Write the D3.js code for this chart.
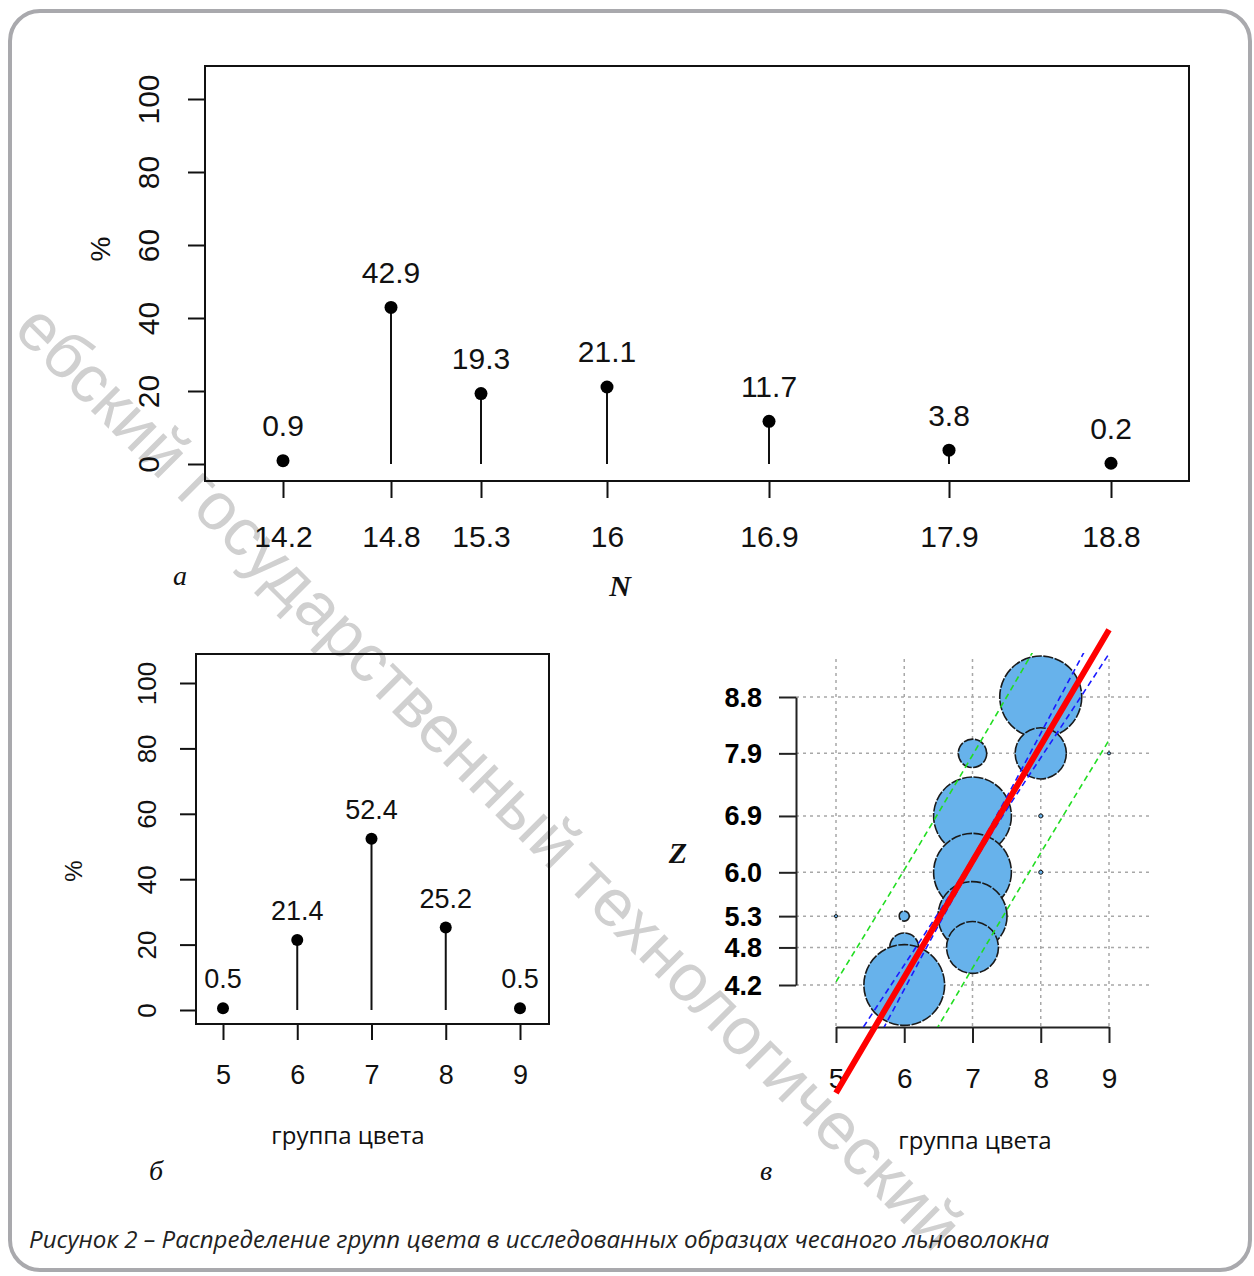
<!DOCTYPE html>
<html>
<head>
<meta charset="utf-8">
<script src="https://cdn.jsdelivr.net/npm/d3@7"></script>
<style>
  body { margin: 0; background: #fff; }
  svg { display: block; }
</style>
</head>
<body>
<div id="chart"></div>
<script>
// Panel a: share of samples by linear density N
const nValues = [14.2, 14.8, 15.3, 16, 16.9, 17.9, 18.8]
const nShares = [0.9, 42.9, 19.3, 21.1, 11.7, 3.8, 0.2]

// Panel б: share of samples by colour group
const colorGroups = [5, 6, 7, 8, 9]
const groupShares = [0.5, 21.4, 52.4, 25.2, 0.5]
const percentTicks = [0, 20, 40, 60, 80, 100]

// Panel в: bubbles (colour group vs Z), sorted so smaller Z is drawn on top
const zTicks = [4.2, 4.8, 5.3, 6.0, 6.9, 7.9, 8.8]
const bubbleGroup = [8, 7, 8, 9, 7, 8, 7, 8, 7, 6, 5, 7, 6, 6]
const bubbleZ = [8.8, 7.9, 7.9, 7.9, 6.9, 6.9, 6.0, 6.0, 5.3, 5.3, 5.3, 4.8, 4.8, 4.2]
const bubbleCount = [100, 12, 39, 0.15, 90, 0.25, 90, 0.25, 71, 1.5, 0.15, 40, 12.5, 97]

// Regression line with confidence (blue) and prediction (green) bands, read at each group
const fitGroup = [5, 6, 7, 8, 9]
const fitZ = [2.475, 4.325, 6.175, 8.025, 9.875]
const confLow = [2.09, 4.13, 6.12, 7.83, 9.49]
const confHigh = [2.86, 4.52, 6.23, 8.22, 10.26]
const predLow = [0.71, 2.61, 4.47, 6.31, 8.11]
const predHigh = [4.25, 6.04, 7.87, 9.74, 11.64]

const W = 1254
const H = 1276
const sans = 'Liberation Sans, Arial, sans-serif'
const serif = 'Liberation Serif, Times New Roman, serif'
const uiFont = 'Open Sans, Noto Sans, sans-serif'

const svg = d3.select('#chart').append('svg')
  .attr('width', W).attr('height', H)

// page frame
svg.append('rect')
  .attr('x', 10).attr('y', 11).attr('width', 1240).attr('height', 1259)
  .attr('rx', 30)
  .attr('fill', '#fff').attr('stroke', '#a9a9ad').attr('stroke-width', 4)

// watermark under the charts (its start is cut by the page edge in the source)
svg.append('text')
  .attr('transform', 'translate(934,1254) rotate(45)')
  .attr('text-anchor', 'end')
  .attr('font-family', sans).attr('font-size', 67)
  .attr('fill', '#d0d0d0')
  .text('ебский государственный технологический')

// Draws a boxed lollipop chart of percentages
function lollipop (opt) {
  const g = svg.append('g')
  const x = d3.scaleLinear().domain(opt.xDomain).range(opt.xRange)
  const y = d3.scaleLinear().domain([0, 100]).range(opt.yRange)

  g.append('rect')
    .attr('x', opt.box[0]).attr('y', opt.box[1])
    .attr('width', opt.box[2] - opt.box[0]).attr('height', opt.box[3] - opt.box[1])
    .attr('fill', 'none').attr('stroke', '#111').attr('stroke-width', 2)

  const yAxis = g.append('g')
    .attr('transform', `translate(${opt.box[0]},0)`)
    .call(d3.axisLeft(y).tickValues(percentTicks).tickSize(opt.tick).tickSizeOuter(0))
  yAxis.select('.domain').remove()
  yAxis.selectAll('line').attr('stroke', '#111').attr('stroke-width', 2)
  yAxis.selectAll('text')
    .attr('x', 0).attr('y', -opt.yLabelGap).attr('dy', null)
    .attr('transform', 'rotate(-90)')
    .attr('text-anchor', 'middle').attr('dominant-baseline', 'central')
    .attr('font-family', sans).attr('font-size', opt.yFont).attr('fill', '#111')

  const xAxis = g.append('g')
    .attr('transform', `translate(0,${opt.box[3]})`)
    .call(d3.axisBottom(x).tickValues(opt.cats).tickFormat(d3.format('')).tickSize(opt.tick).tickSizeOuter(0))
  xAxis.select('.domain').remove()
  xAxis.selectAll('line').attr('stroke', '#111').attr('stroke-width', 2)
  xAxis.selectAll('text')
    .attr('y', opt.xLabelGap).attr('dy', null)
    .attr('dominant-baseline', 'central')
    .attr('font-family', sans).attr('font-size', opt.xFont).attr('fill', '#111')

  g.selectAll('.stem').data(opt.cats).join('line')
    .attr('x1', d => x(d)).attr('x2', d => x(d))
    .attr('y1', y(0)).attr('y2', (d, i) => y(opt.values[i]))
    .attr('stroke', '#111').attr('stroke-width', 2)

  g.selectAll('.dot').data(opt.cats).join('circle')
    .attr('cx', d => x(d)).attr('cy', (d, i) => y(opt.values[i]))
    .attr('r', opt.dotR).attr('fill', '#000')

  g.selectAll('.val').data(opt.cats).join('text')
    .attr('x', d => x(d)).attr('y', (d, i) => y(opt.values[i]) - opt.valueGap)
    .attr('text-anchor', 'middle').attr('dominant-baseline', 'central')
    .attr('font-family', sans).attr('font-size', opt.valueFont).attr('fill', '#111')
    .text((d, i) => opt.values[i])

  g.append('text')
    .attr('transform', `translate(${opt.pctPos[0]},${opt.pctPos[1]}) rotate(-90)`)
    .attr('text-anchor', 'middle').attr('dominant-baseline', 'central')
    .attr('font-family', sans).attr('font-size', opt.yFont - 2).attr('fill', '#111')
    .text('%')
}

lollipop({
  cats: nValues, values: nShares,
  xDomain: [14.2, 18.8], xRange: [283, 1111],
  yRange: [464, 99],
  box: [205, 66, 1189, 481],
  tick: 17, yLabelGap: 57, xLabelGap: 55,
  yFont: 30, xFont: 30, valueFont: 30, valueGap: 35, dotR: 6.5,
  pctPos: [100, 249]
})

lollipop({
  cats: colorGroups, values: groupShares,
  xDomain: [5, 9], xRange: [223, 520],
  yRange: [1010, 683],
  box: [196, 654, 549, 1024],
  tick: 16, yLabelGap: 49, xLabelGap: 51,
  yFont: 26, xFont: 27, valueFont: 27, valueGap: 29, dotR: 6,
  pctPos: [73, 871]
})

// Panel в: bubble chart with regression
const bx = d3.scaleLinear().domain([5, 9]).range([836, 1109])
const by = d3.scaleLinear().domain([4.2, 8.8]).range([985, 697])
const rScale = d3.scaleSqrt().domain([0, 100]).range([0, 41])
const pg = svg.append('g')

pg.selectAll('.vgrid').data(colorGroups).join('line')
  .attr('x1', d => bx(d)).attr('x2', d => bx(d)).attr('y1', 659).attr('y2', 1027)
  .attr('stroke', '#a8a8a8').attr('stroke-width', 1.5).attr('stroke-dasharray', '3,4')
pg.selectAll('.hgrid').data(zTicks).join('line')
  .attr('x1', 796).attr('x2', 1150).attr('y1', d => by(d)).attr('y2', d => by(d))
  .attr('stroke', '#a8a8a8').attr('stroke-width', 1.5).attr('stroke-dasharray', '3,4')

const zAxis = pg.append('g').attr('transform', 'translate(796,0)')
  .call(d3.axisLeft(by).tickValues(zTicks).tickFormat(d3.format('.1f')).tickSize(17).tickSizeOuter(0).tickPadding(17))
zAxis.selectAll('path, line').attr('stroke', '#222').attr('stroke-width', 2)
zAxis.selectAll('text')
  .attr('dy', null).attr('dominant-baseline', 'central')
  .attr('font-family', sans).attr('font-weight', 'bold').attr('font-size', 27).attr('fill', '#000')

const gAxis = pg.append('g').attr('transform', 'translate(0,1027)')
  .call(d3.axisBottom(bx).tickValues(colorGroups).tickFormat(d3.format('')).tickSize(16).tickSizeOuter(0))
gAxis.selectAll('path, line').attr('stroke', '#222').attr('stroke-width', 2)
gAxis.selectAll('text')
  .attr('y', 51).attr('dy', null).attr('dominant-baseline', 'central')
  .attr('font-family', sans).attr('font-size', 28).attr('fill', '#111')

pg.selectAll('.bubble').data(bubbleZ).join('circle')
  .attr('cx', (d, i) => bx(bubbleGroup[i])).attr('cy', d => by(d))
  .attr('r', (d, i) => Math.max(1.5, rScale(bubbleCount[i])))
  .attr('fill', '#67b2eb').attr('stroke', '#1a1a1a')
  .attr('stroke-width', (d, i) => bubbleCount[i] < 1 ? 1 : 1.6)
  .attr('stroke-dasharray', (d, i) => bubbleCount[i] < 1 ? null : '10,1.5')

svg.append('clipPath').attr('id', 'bandClip')
  .append('rect').attr('x', bx(5)).attr('y', 653).attr('width', bx(9) - bx(5)).attr('height', 374)

const band = vals => d3.line().curve(d3.curveNatural)
  .x((d, i) => bx(fitGroup[i])).y(d => by(d))(vals)
const bands = pg.append('g').attr('clip-path', 'url(#bandClip)')
;[predLow, predHigh].forEach(v => {
  bands.append('path').attr('d', band(v)).attr('fill', 'none')
    .attr('stroke', '#22dd22').attr('stroke-width', 1.6).attr('stroke-dasharray', '6,4')
})
;[confLow, confHigh].forEach(v => {
  bands.append('path').attr('d', band(v)).attr('fill', 'none')
    .attr('stroke', '#1a1aff').attr('stroke-width', 1.6).attr('stroke-dasharray', '6,4')
})

pg.append('path')
  .attr('d', d3.line().x((d, i) => bx(fitGroup[i])).y(d => by(d))(fitZ))
  .attr('fill', 'none').attr('stroke', '#ff0000').attr('stroke-width', 6)

// axis titles and panel letters
const label = (x, y, txt, font, size, style, weight) => svg.append('text')
  .attr('x', x).attr('y', y)
  .attr('text-anchor', 'middle').attr('dominant-baseline', 'central')
  .attr('font-family', font).attr('font-size', size)
  .attr('font-style', style || 'normal').attr('font-weight', weight || 'normal')
  .attr('fill', '#111').text(txt)

label(620, 585, 'N', serif, 30, 'italic', 'bold')
label(180, 575, 'а', serif, 28, 'italic')
label(348, 1134, 'группа цвета', uiFont, 24)
label(975, 1139, 'группа цвета', uiFont, 24)
label(156, 1170, 'б', serif, 28, 'italic')
label(766, 1170, 'в', serif, 28, 'italic')
label(678, 852, 'Z', serif, 30, 'italic', 'bold')

svg.append('text')
  .attr('x', 29).attr('y', 1238).attr('dominant-baseline', 'central')
  .attr('font-family', uiFont).attr('font-style', 'italic').attr('font-size', 24)
  .attr('textLength', 1020).attr('lengthAdjust', 'spacingAndGlyphs')
  .attr('fill', '#222')
  .text('Рисунок 2 – Распределение групп цвета в исследованных образцах чесаного льноволокна')
</script>
</body>
</html>
